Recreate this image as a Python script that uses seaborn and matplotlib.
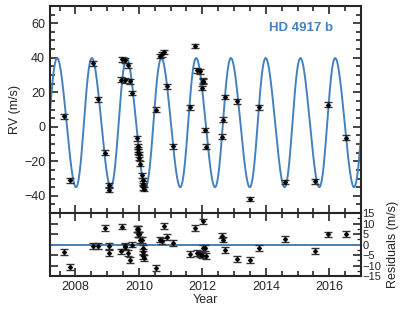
import numpy as np
import pandas as pd
import matplotlib
matplotlib.use('Agg')
import matplotlib.pyplot as plt
import seaborn as sns
from matplotlib.ticker import MultipleLocator

# observation epochs (year), radial velocities and residuals (m/s)
year = [2007.63, 2007.82, 2008.55, 2008.70, 2008.94, 2009.05, 2009.05,
        2009.48, 2009.45, 2009.56, 2009.56, 2009.67, 2009.72, 2009.79,
        2009.95, 2009.96, 2009.97, 2009.98, 2010.00, 2010.01, 2010.02,
        2010.10, 2010.12, 2010.13, 2010.14, 2010.15,
        2010.55, 2010.67, 2010.72, 2010.80, 2010.88, 2011.09,
        2011.61, 2011.77, 2011.82, 2011.92, 2011.98, 2012.01, 2012.03,
        2012.08, 2012.12, 2012.61, 2012.64, 2012.71, 2013.08, 2013.49,
        2013.79, 2014.59, 2015.56, 2015.95, 2016.53]
rv = [6.0, -31.0, 36.7, 16.0, -15.0, -34.0, -36.5,
      39.0, 27.3, 38.4, 27.0, 35.7, 26.4, 19.6,
      -6.7, -11.4, -13.0, -14.5, -16.0, -18.0, -21.3,
      -28.0, -31.0, -33.0, -35.0, -36.0,
      9.8, 41.0, 42.0, 43.3, 23.5, -11.2,
      11.2, 46.8, 32.6, 32.2, 22.5, 26.7, 26.0,
      -1.9, -11.6, -5.7, 4.0, 17.2, 14.7, -41.8,
      11.2, -32.0, -31.6, 12.7, -6.3]
resid = [-3.7, -10.6, -0.8, -0.8, 8.0, -0.8, -4.0,
         8.6, -3.3, -0.5, -1.2, -4.1, -7.3, 0.0,
         7.6, 7.6, 7.6, 4.8, 4.8, 4.8, 2.0,
         2.0, -1.5, -3.5, -5.7, -6.5,
         -11.0, 2.4, 1.6, 8.7, 3.7, 0.8,
         -4.4, 8.0, -4.0, -4.5, -5.0, 11.0, -1.6,
         -1.6, -5.6, 4.3, 2.4, -2.4, -6.7, -7.5,
         -1.6, 2.7, -2.9, 4.8, 5.2]
err = [1.4] * len(year)

# Keplerian fit parameters
P = 1.0951        # yr
K = 37.4          # m/s
ecc = 0.066
omega = -np.pi / 2
Tp = 2007.174
gamma = 2.4

df = pd.DataFrame({'year': year, 'rv': rv, 'resid': resid, 'err': err})

t = np.linspace(2007.2, 2017.0, 3000)
M = 2 * np.pi * (t - Tp) / P
E = M.copy()
for i in range(30):
    E = E - (E - ecc * np.sin(E) - M) / (1 - ecc * np.cos(E))
nu = 2 * np.arctan2(np.sqrt(1 + ecc) * np.sin(E / 2), np.sqrt(1 - ecc) * np.cos(E / 2))
model = pd.DataFrame({'year': t, 'rv': gamma + K * (np.cos(nu + omega) + ecc * np.cos(omega))})

sns.set_style('ticks')
plt.rcParams['font.family'] = ['Liberation Sans', 'DejaVu Sans']
plt.rcParams['font.size'] = 9

blue = '#4382bf'
fig = plt.figure(figsize=(4.15, 3.12), dpi=100)
ax = fig.add_axes([0.1205, 0.317, 0.7495, 0.664])
axr = fig.add_axes([0.1205, 0.1154, 0.7495, 0.2016])

sns.lineplot(data=model, x='year', y='rv', ax=ax, color=blue, lw=1.4)
ax.errorbar(df['year'], df['rv'], yerr=df['err'], fmt='none', ecolor='#333333',
            elinewidth=1.0, capsize=3.2, capthick=1.0, zorder=3)
sns.scatterplot(data=df, x='year', y='rv', ax=ax, color='black', s=7,
                marker='D', edgecolor='black', zorder=4)

axr.axhline(0, color=blue, lw=1.4)
axr.errorbar(df['year'], df['resid'], yerr=df['err'], fmt='none', ecolor='#333333',
             elinewidth=1.0, capsize=3.2, capthick=1.0, zorder=3)
sns.scatterplot(data=df, x='year', y='resid', ax=axr, color='black', s=7,
                marker='D', edgecolor='black', zorder=4)

for a in (ax, axr):
    a.set_xlim(2007.2, 2017.0)
    a.xaxis.set_major_locator(MultipleLocator(2))
    a.xaxis.set_minor_locator(MultipleLocator(0.5))
    for s in a.spines.values():
        s.set_linewidth(1.5)
    a.tick_params(which='both', direction='in', top=True, right=True, width=1.2)
    a.tick_params(which='major', length=6)
    a.tick_params(which='minor', length=3.5)

ax.set_ylim(-50, 70)
ax.yaxis.set_major_locator(MultipleLocator(20))
ax.yaxis.set_minor_locator(MultipleLocator(5))
ax.set_xticklabels([])
ax.set_xlabel('')
ax.set_ylabel('RV (m/s)', fontsize=9, labelpad=2)
ax.text(0.91, 0.894, 'HD 4917 b', transform=ax.transAxes, ha='right', va='center',
        color=blue, fontsize=9.5, fontweight='bold')

axr.set_ylim(-15, 15)
axr.yaxis.set_major_locator(MultipleLocator(5))
axr.yaxis.set_minor_locator(MultipleLocator(2.5))
axr.tick_params(axis='y', which='minor', left=False, width=0.9, length=3)
axr.tick_params(axis='y', labelleft=False, labelright=True, pad=1, labelsize=8)
axr.yaxis.set_label_position('right')
axr.set_ylabel('Residuals (m/s)', fontsize=9, labelpad=4)
axr.set_xlabel('Year', fontsize=9, labelpad=1)

fig.savefig('out.png', dpi=100)
